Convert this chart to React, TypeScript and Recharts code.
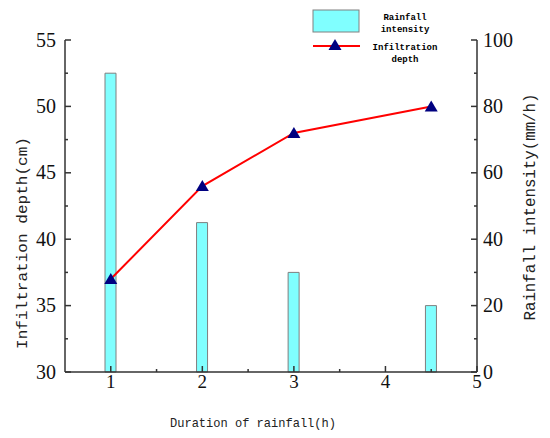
import { ComposedChart, Bar, Line, XAxis, YAxis, Legend, Customized } from "recharts";

// rainfall duration (h) and the two measured series
const durations = [1, 2, 3, 4.5];
const rainfallIntensity = [90, 45, 30, 20];
const infiltrationDepth = [37, 44, 48, 50];

// tick positions (majors get a label, minors only a short mark)
const xTicks = [1, 1.5, 2, 2.5, 3, 3.5, 4, 4.5, 5];
const leftTicks = [30, 32.5, 35, 37.5, 40, 42.5, 45, 47.5, 50, 52.5, 55];
const rightTicks = [0, 10, 20, 30, 40, 50, 60, 70, 80, 90, 100];

const data = durations.map((t, i) => ({
  t,
  rain: rainfallIntensity[i],
  depth: infiltrationDepth[i],
}));

const AXIS = "#333";
const NUM_FONT = "Liberation Serif, Times New Roman, serif";
const MONO = "Liberation Mono, Courier New, monospace";

interface TickProps {
  x?: number;
  y?: number;
  payload?: { value: number };
  side: "bottom" | "left" | "right";
  major: (v: number) => boolean;
}

const AxisTick = ({ x = 0, y = 0, payload, side, major }: TickProps) => {
  const v = payload?.value ?? 0;
  const isMajor = major(v);
  const len = isMajor ? 6 : 3;
  if (side === "bottom") {
    return (
      <g>
        <line x1={x} y1={y} x2={x} y2={y - len} stroke={AXIS} strokeWidth={1.5} />
        {isMajor && (
          <text x={x} y={y + 16} textAnchor="middle" style={{ fontSize: 19, fontFamily: NUM_FONT }} fill="#111">
            {v}
          </text>
        )}
      </g>
    );
  }
  const dir = side === "left" ? 1 : -1;
  return (
    <g>
      <line x1={x} y1={y} x2={x + dir * len} y2={y} stroke={AXIS} strokeWidth={1.5} />
      {isMajor && (
        <text
          x={side === "left" ? x - 9 : x + 6}
          y={y + 6.5}
          textAnchor={side === "left" ? "end" : "start"}
          style={{ fontSize: 20, fontFamily: NUM_FONT }}
          fill="#111"
        >
          {v}
        </text>
      )}
    </g>
  );
};

const Triangle = ({ cx, cy }: { cx: number; cy: number }) => (
  <path d={`M${cx},${cy - 6} L${cx - 6.5},${cy + 5} L${cx + 6.5},${cy + 5} Z`} fill="#000080" />
);

const legendText = { fontSize: 9, fontWeight: 700, fontFamily: MONO };

const LegendBox = () => (
  <svg width={200} height={70} style={{ display: "block" }}>
    <rect x={13} y={10} width={46} height={22} fill="#80FFFF" stroke="#808080" />
    <text x={105} y={20} textAnchor="middle" style={legendText}>
      Rainfall
    </text>
    <text x={105} y={32} textAnchor="middle" style={legendText}>
      intensity
    </text>
    <line x1={13} y1={46} x2={60} y2={46} stroke="#FF0000" strokeWidth={2} />
    <Triangle cx={35} cy={45} />
    <text x={105} y={50} textAnchor="middle" style={legendText}>
      Infiltration
    </text>
    <text x={105} y={62} textAnchor="middle" style={legendText}>
      depth
    </text>
  </svg>
);

const Titles = () => (
  <g fill="#222" style={{ fontFamily: MONO }}>
    <text x={253} y={427} textAnchor="middle" fontSize={13} textLength={166} lengthAdjust="spacingAndGlyphs">
      Duration of rainfall(h)
    </text>
    <text
      transform="translate(27,243) rotate(-90)"
      textAnchor="middle"
      fontSize={15}
      textLength={212}
      lengthAdjust="spacingAndGlyphs"
    >
      Infiltration depth(cm)
    </text>
    <text
      transform="translate(535,207) rotate(-90)"
      textAnchor="middle"
      fontSize={17}
      textLength={227}
      lengthAdjust="spacingAndGlyphs"
    >
      Rainfall intensity(mm/h)
    </text>
  </g>
);

export default function App() {
  return (
    <div style={{ position: "absolute", left: 0, top: 0, background: "#fff" }}>
      <ComposedChart width={550} height={438} data={data} margin={{ top: 40, right: 0, left: 0, bottom: 0 }}>
        <XAxis
          dataKey="t"
          type="number"
          domain={[0.5, 5]}
          ticks={xTicks}
          interval={0}
          height={66}
          tickSize={0}
          tickMargin={0}
          tickLine={false}
          axisLine={{ stroke: AXIS, strokeWidth: 1.5 }}
          tick={(p: any) => <AxisTick {...p} side="bottom" major={(v) => Number.isInteger(v)} />}
        />
        <YAxis
          yAxisId="left"
          orientation="left"
          domain={[30, 55]}
          ticks={leftTicks}
          interval={0}
          width={65}
          tickSize={0}
          tickMargin={0}
          tickLine={false}
          axisLine={{ stroke: AXIS, strokeWidth: 1.5 }}
          tick={(p: any) => <AxisTick {...p} side="left" major={(v) => v % 5 === 0} />}
        />
        <YAxis
          yAxisId="right"
          orientation="right"
          domain={[0, 100]}
          ticks={rightTicks}
          interval={0}
          width={73}
          tickSize={0}
          tickMargin={0}
          tickLine={false}
          axisLine={{ stroke: AXIS, strokeWidth: 1.5 }}
          tick={(p: any) => <AxisTick {...p} side="right" major={(v) => v % 20 === 0} />}
        />
        <Bar
          yAxisId="right"
          dataKey="rain"
          barSize={11}
          fill="#80FFFF"
          stroke="#7f7f7f"
          strokeWidth={1}
          isAnimationActive={false}
        />
        <Line
          yAxisId="left"
          dataKey="depth"
          type="linear"
          stroke="#FF0000"
          strokeWidth={2}
          dot={(p: any) => <Triangle key={p.index} cx={p.cx} cy={p.cy} />}
          activeDot={false}
          isAnimationActive={false}
        />
        <Legend
          layout="vertical"
          align="center"
          verticalAlign="middle"
          wrapperStyle={{ top: 0, left: 300, width: 200 }}
          content={() => <LegendBox />}
        />
        <Customized component={Titles} />
      </ComposedChart>
    </div>
  );
}
